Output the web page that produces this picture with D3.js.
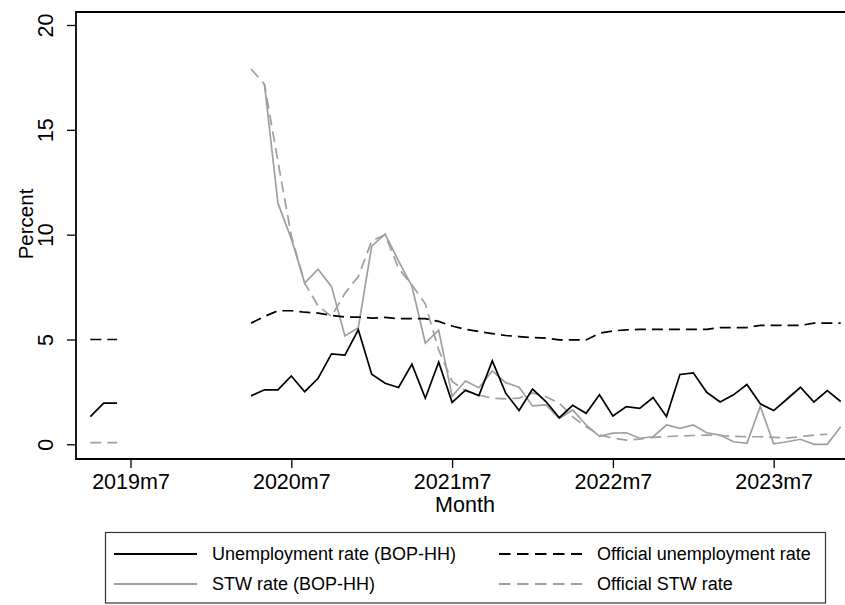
<!DOCTYPE html>
<html>
<head>
<meta charset="utf-8">
<script src="https://cdn.jsdelivr.net/npm/d3@7"></script>
<style>
  html, body { margin: 0; padding: 0; background: #fff; }
  svg { display: block; font-family: "Liberation Sans", Arial, Helvetica, sans-serif; }
</style>
</head>
<body>
<svg id="chart" width="845" height="605"></svg>
<script>
// ---------- data ----------
const months = [
  "2019m4","2019m5","2019m6",
  "2020m4","2020m5","2020m6","2020m7","2020m8","2020m9","2020m10","2020m11","2020m12",
  "2021m1","2021m2","2021m3","2021m4","2021m5","2021m6","2021m7","2021m8","2021m9","2021m10","2021m11","2021m12",
  "2022m1","2022m2","2022m3","2022m4","2022m5","2022m6","2022m7","2022m8","2022m9","2022m10","2022m11","2022m12",
  "2023m1","2023m2","2023m3","2023m4","2023m5","2023m6","2023m7","2023m8","2023m9","2023m10","2023m11","2023m12"
];
const unempBOP = [
  1.32, 1.96, 1.96,
  2.31, 2.60, 2.60, 3.26, 2.51, 3.15, 4.31, 4.25, 5.46,
  3.34, 2.91, 2.71, 3.82, 2.20, 3.92, 2.00, 2.58, 2.32, 3.98, 2.44, 1.61,
  2.63, 2.04, 1.27, 1.86, 1.48, 2.36, 1.35, 1.80, 1.71, 2.23, 1.32, 3.33,
  3.41, 2.48, 2.02, 2.36, 2.85, 1.93, 1.61, 2.16, 2.72, 2.02, 2.56, 2.04
];
const unempOfficial = [
  5.0, 5.0, 5.0,
  5.78, 6.10, 6.37, 6.37, 6.30, 6.26, 6.15, 6.07, 6.07,
  6.02, 6.05, 5.99, 5.99, 5.99, 5.86, 5.64, 5.48, 5.38, 5.28, 5.19, 5.14,
  5.09, 5.06, 4.98, 4.98, 4.98, 5.30, 5.41, 5.46, 5.48, 5.48, 5.48, 5.48,
  5.48, 5.48, 5.57, 5.57, 5.57, 5.67, 5.67, 5.67, 5.67, 5.78, 5.78, 5.78
];
const stwBOP = [
  null, null, null,
  null, 17.17, 11.51, 9.80, 7.69, 8.35, 7.52, 5.17, 5.56,
  9.45, 10.03, 8.75, 7.55, 4.83, 5.44, 2.30, 3.02, 2.70, 3.50, 2.94, 2.72,
  1.83, 1.88, 1.24, 1.64, 0.92, 0.38, 0.53, 0.55, 0.29, 0.36, 0.92, 0.76,
  0.92, 0.55, 0.44, 0.12, 0.05, 1.80, 0.02, 0.12, 0.24, 0.00, 0.00, 0.84
];
const stwOfficial = [
  0.08, 0.08, 0.08,
  17.9, 17.17, 13.5, 9.95, 7.69, 6.60, 6.10, 7.20, 8.00,
  9.70, 10.0, 8.40, 7.60, 6.70, 4.50, 3.00, 2.55, 2.35, 2.20, 2.17, 2.20,
  2.45, 2.27, 1.97, 1.31, 0.83, 0.44, 0.30, 0.20, 0.25, 0.33, 0.37, 0.40,
  0.42, 0.44, 0.42, 0.38, 0.36, 0.36, 0.33, 0.30, 0.36, 0.44, 0.48, null
];
const xTickLabels = ["2019m7","2020m7","2021m7","2022m7","2023m7"];
const yTickValues = [0, 5, 10, 15, 20];
const seriesNames = ["Unemployment rate (BOP-HH)", "Official unemployment rate", "STW rate (BOP-HH)", "Official STW rate"];

// ---------- helpers ----------
const monthIndex = s => { const [y, m] = s.split("m").map(Number); return (y - 2019) * 12 + (m - 7); };

const svg = d3.select("#chart");
const FONT = "Liberation Sans, Arial, Helvetica, sans-serif";

const frame = { left: 76, top: 12, bottom: 459, right: 845 };
const x = d3.scaleLinear().domain([-4, 0]).range([76.8, 130.5]);
// 13.4 px per month
x.domain([0, 48]).range([130.5, 130.5 + 48 * 13.4]);
const y = d3.scaleLinear().domain([0, 20]).range([444.3, 25]);

// ---------- frame ----------
const gFrame = svg.append("g").attr("stroke", "#000").attr("stroke-width", 1.8).attr("fill", "none");
gFrame.append("line").attr("x1", frame.left).attr("x2", frame.right).attr("y1", frame.top).attr("y2", frame.top);
gFrame.append("line").attr("x1", frame.left).attr("x2", frame.left).attr("y1", frame.top - 0.9).attr("y2", frame.bottom + 0.9);
gFrame.append("line").attr("x1", frame.left).attr("x2", frame.right).attr("y1", frame.bottom).attr("y2", frame.bottom);

// ---------- axes ----------
const yAxis = d3.axisLeft(y).tickValues(yTickValues).tickSize(9).tickFormat(d3.format("d"));
const gy = svg.append("g").attr("transform", `translate(${frame.left},0)`).call(yAxis);
gy.select(".domain").remove();
gy.selectAll(".tick line").attr("stroke", "#000").attr("stroke-width", 1.3);
gy.selectAll(".tick text")
  .attr("x", null).attr("dy", null)
  .attr("transform", "translate(-23,0) rotate(-90)")
  .attr("text-anchor", "middle")
  .attr("font-family", FONT).attr("font-size", 21.5).attr("fill", "#000");

const xAxis = d3.axisBottom(x).tickValues(xTickLabels.map(monthIndex)).tickSize(9)
  .tickFormat((d, i) => xTickLabels[i]);
const gx = svg.append("g").attr("transform", `translate(0,${frame.bottom})`).call(xAxis);
gx.select(".domain").remove();
gx.selectAll(".tick line").attr("stroke", "#000").attr("stroke-width", 1.3);
gx.selectAll(".tick text")
  .attr("y", 30).attr("dy", null)
  .attr("font-family", FONT).attr("font-size", 21.5).attr("fill", "#000");

// axis titles
svg.append("text").attr("transform", "translate(33,224) rotate(-90)")
  .attr("text-anchor", "middle").attr("font-family", FONT).attr("font-size", 20.5).text("Percent");
svg.append("text").attr("x", 465).attr("y", 512)
  .attr("text-anchor", "middle").attr("font-family", FONT).attr("font-size", 21.5).text("Month");

// ---------- lines ----------
function toPoints(values) {
  const pts = [];
  months.forEach((m, i) => {
    const t = monthIndex(m);
    if (i > 0 && t - monthIndex(months[i - 1]) > 1) pts.push({ t: null, v: null });
    pts.push({ t, v: values[i] });
  });
  return pts;
}
const line = d3.line().defined(d => d.v != null).x(d => x(d.t)).y(d => y(d.v));

const GRAY = "#9f9f9f";
const styles = [
  { data: stwOfficial, color: GRAY, dash: "11,6" },
  { data: stwBOP, color: GRAY, dash: null },
  { data: unempOfficial, color: "#000", dash: "11,6" },
  { data: unempBOP, color: "#000", dash: null }
];
styles.forEach(s => {
  svg.append("path").datum(toPoints(s.data))
    .attr("d", line).attr("fill", "none")
    .attr("stroke", s.color).attr("stroke-width", 1.7)
    .attr("stroke-linejoin", "miter")
    .attr("stroke-dasharray", s.dash);
});

// ---------- legend ----------
const lg = svg.append("g");
lg.append("rect").attr("x", 105.5).attr("y", 532.5).attr("width", 720).attr("height", 70.5)
  .attr("fill", "#fff").attr("stroke", "#333").attr("stroke-width", 1.2);
const legendItems = [
  { name: seriesNames[0], color: "#000", dash: null, col: 0, row: 0 },
  { name: seriesNames[1], color: "#000", dash: "11.5,6.5", col: 1, row: 0 },
  { name: seriesNames[2], color: GRAY, dash: null, col: 0, row: 1 },
  { name: seriesNames[3], color: GRAY, dash: "11.5,6.5", col: 1, row: 1 }
];
const colX = [114, 499];
const rowY = [554, 584];
legendItems.forEach(it => {
  const x0 = colX[it.col], yy = rowY[it.row];
  lg.append("line").attr("x1", x0).attr("x2", x0 + 83).attr("y1", yy).attr("y2", yy)
    .attr("stroke", it.color).attr("stroke-width", 1.8).attr("stroke-dasharray", it.dash);
  lg.append("text").attr("x", x0 + 98).attr("y", yy).attr("dy", "0.35em")
    .attr("font-family", FONT).attr("font-size", 18).attr("fill", "#000").text(it.name);
});
</script>
</body>
</html>
